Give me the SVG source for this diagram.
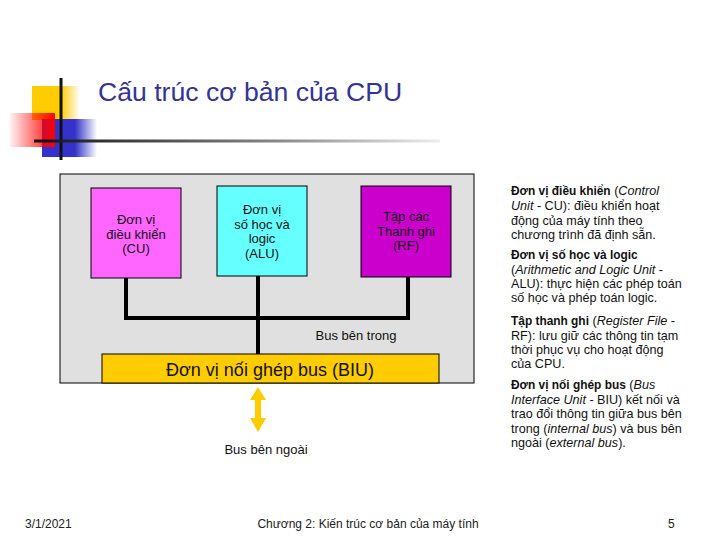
<svg xmlns="http://www.w3.org/2000/svg" width="720" height="540" viewBox="0 0 720 540">
<defs>
<style>
text{font-family:"Liberation Sans",Arial,sans-serif;}
.lbl{font-size:13px;fill:#111;text-anchor:middle;}
.side{font-size:12.6px;fill:#111;}
.b{font-weight:bold;font-size:11.9px;}
.i{font-style:italic;}
.foot{font-size:12px;fill:#222;}
.bus{stroke:#000;stroke-width:4;fill:none;}
</style>
<linearGradient id="gY" x1="0" x2="1" y1="0" y2="0"><stop offset="0" stop-color="#ffcc00"/><stop offset="0.6" stop-color="#ffcc00"/><stop offset="1" stop-color="#ffcc00" stop-opacity="0"/></linearGradient>
<linearGradient id="gB" x1="0" x2="1" y1="0" y2="0"><stop offset="0" stop-color="#3333cc"/><stop offset="0.6" stop-color="#3333cc"/><stop offset="1" stop-color="#3333cc" stop-opacity="0"/></linearGradient>
<linearGradient id="gR" x1="0" x2="1" y1="0" y2="0"><stop offset="0" stop-color="#ff0000" stop-opacity="0.05"/><stop offset="1" stop-color="#ff0000"/></linearGradient>
<linearGradient id="gL" gradientUnits="userSpaceOnUse" x1="34" x2="440" y1="0" y2="0"><stop offset="0" stop-color="#111"/><stop offset="0.6" stop-color="#888"/><stop offset="1" stop-color="#eee"/></linearGradient>
</defs>
<rect width="720" height="540" fill="#fff"/>
<g id="logo">
<rect x="32" y="86" width="48" height="34" fill="url(#gY)"/>
<rect x="42" y="119" width="55" height="38" fill="url(#gB)"/>
<rect x="10" y="113" width="45" height="34" fill="url(#gR)"/>
<line x1="61" y1="78" x2="61" y2="160" stroke="#111" stroke-width="3"/>
<line x1="34" y1="141" x2="440" y2="141" stroke="url(#gL)" stroke-width="3"/>
</g>
<text id="title" x="98" y="101" font-size="26.6" fill="#333399">Cấu trúc cơ bản của CPU</text>
<g id="cpu">
<rect x="60" y="174" width="414" height="209" fill="#e0e0e0" stroke="#000" stroke-width="1"/>
</g>
<g id="connectors">
<polyline class="bus" points="126,278 126,318 408,318 408,277"/>
<line class="bus" x1="258" y1="276" x2="258" y2="354"/>
<polygon points="258,387 266,400 261,400 261,418 266,418 258,432 250,418 255,418 255,400 250,400" fill="#ffcc00"/>
</g>
<g id="cu">
<rect x="91" y="188" width="90" height="90" fill="#ff66ff" stroke="#000" stroke-width="1"/>
<text class="lbl" x="136" y="224">Đơn vị</text>
<text class="lbl" x="136" y="238.5">điều khiển</text>
<text class="lbl" x="136" y="253">(CU)</text>
</g>
<g id="alu">
<rect x="217" y="186" width="90" height="90" fill="#66ffff" stroke="#000" stroke-width="1"/>
<text class="lbl" x="262" y="214">Đơn vị</text>
<text class="lbl" x="262" y="228.5">số học và</text>
<text class="lbl" x="262" y="243">logic</text>
<text class="lbl" x="262" y="257.5">(ALU)</text>
</g>
<g id="rf">
<rect x="361" y="186" width="90" height="91" fill="#cc00cc" stroke="#000" stroke-width="1"/>
<text class="lbl" x="406" y="221">Tập các</text>
<text class="lbl" x="406" y="235.5">Thanh ghi</text>
<text class="lbl" x="406" y="250">(RF)</text>
</g>
<text class="lbl" x="356" y="339.5">Bus bên trong</text>
<g id="biu">
<rect x="102" y="354" width="337" height="29" fill="#ffcc00" stroke="#000" stroke-width="1"/>
<text x="270" y="376" font-size="18" fill="#111" text-anchor="middle">Đơn vị nối ghép bus (BIU)</text>
</g>
<text class="lbl" x="266" y="453.5" font-size="13.5">Bus bên ngoài</text>
<g id="desc">
<text class="side" x="511" y="195"><tspan class="b">Đơn vị điều khiển</tspan> (<tspan class="i">Control</tspan></text>
<text class="side" x="511" y="210"><tspan class="i">Unit</tspan> - CU): điều khiển hoạt</text>
<text class="side" x="511" y="224.5">động của máy tính theo</text>
<text class="side" x="511" y="238.5">chương trình đã định sẵn.</text>
<text class="side" x="511" y="259"><tspan class="b">Đơn vị số học và logic</tspan></text>
<text class="side" x="511" y="273.5">(<tspan class="i">Arithmetic and Logic Unit</tspan> -</text>
<text class="side" x="511" y="288">ALU): thực hiện các phép toán</text>
<text class="side" x="511" y="302">số học và phép toán logic.</text>
<text class="side" x="511" y="325"><tspan class="b">Tập thanh ghi</tspan> (<tspan class="i">Register File</tspan> -</text>
<text class="side" x="511" y="339.5">RF): lưu giữ các thông tin tạm</text>
<text class="side" x="511" y="354">thời phục vụ cho hoạt động</text>
<text class="side" x="511" y="368">của CPU.</text>
<text class="side" x="511" y="389"><tspan class="b">Đơn vị nối ghép bus</tspan> (<tspan class="i">Bus</tspan></text>
<text class="side" x="511" y="403.5"><tspan class="i">Interface Unit</tspan> - BIU) kết nối và</text>
<text class="side" x="511" y="418">trao đổi thông tin giữa bus bên</text>
<text class="side" x="511" y="432.5">trong (<tspan class="i">internal bus</tspan>) và bus bên</text>
<text class="side" x="511" y="447">ngoài (<tspan class="i">external bus</tspan>).</text>
</g>
<g id="footer">
<text class="foot" x="25" y="528">3/1/2021</text>
<text class="foot" x="368" y="528" text-anchor="middle">Chương 2: Kiến trúc cơ bản của máy tính</text>
<text class="foot" x="668" y="528">5</text>
</g>
</svg>
